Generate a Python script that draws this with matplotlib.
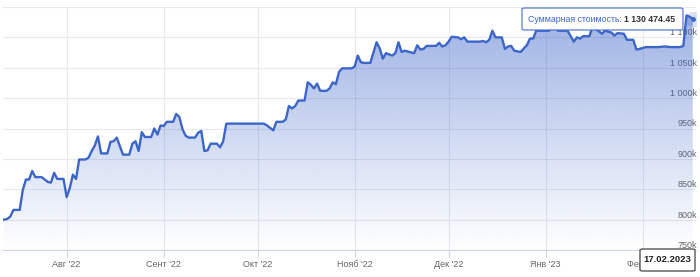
import numpy as np
import matplotlib
matplotlib.use('Agg')
import matplotlib.pyplot as plt
from matplotlib.patches import FancyBboxPatch
import pandas as pd

plt.rcParams['font.family'] = ['Liberation Sans', 'DejaVu Sans']

# portfolio value, thousands
dates = ['2022-07-12', '2022-07-13', '2022-07-14', '2022-07-15', '2022-07-17', '2022-07-18',
         '2022-07-19', '2022-07-20', '2022-07-21', '2022-07-22', '2022-07-24', '2022-07-25',
         '2022-07-26', '2022-07-27', '2022-07-28', '2022-07-29', '2022-07-31', '2022-08-01',
         '2022-08-02', '2022-08-03', '2022-08-04', '2022-08-05', '2022-08-07', '2022-08-08',
         '2022-08-09', '2022-08-10', '2022-08-11', '2022-08-12', '2022-08-14', '2022-08-15',
         '2022-08-16', '2022-08-17', '2022-08-18', '2022-08-19', '2022-08-21', '2022-08-22',
         '2022-08-23', '2022-08-24', '2022-08-25', '2022-08-26', '2022-08-28', '2022-08-29',
         '2022-08-30', '2022-08-31', '2022-09-01', '2022-09-02', '2022-09-04', '2022-09-05',
         '2022-09-06', '2022-09-07', '2022-09-08', '2022-09-09', '2022-09-11', '2022-09-12',
         '2022-09-13', '2022-09-14', '2022-09-15', '2022-09-16', '2022-09-18', '2022-09-19',
         '2022-09-20', '2022-09-21', '2022-10-03', '2022-10-04', '2022-10-06', '2022-10-07',
         '2022-10-09', '2022-10-10', '2022-10-11', '2022-10-12', '2022-10-13', '2022-10-14',
         '2022-10-16', '2022-10-17', '2022-10-18', '2022-10-19', '2022-10-20', '2022-10-21',
         '2022-10-23', '2022-10-24', '2022-10-25', '2022-10-26', '2022-10-27', '2022-10-28',
         '2022-10-31', '2022-11-01', '2022-11-02', '2022-11-03', '2022-11-04', '2022-11-06',
         '2022-11-07', '2022-11-08', '2022-11-09', '2022-11-10', '2022-11-11', '2022-11-13',
         '2022-11-14', '2022-11-15', '2022-11-16', '2022-11-17', '2022-11-20', '2022-11-21',
         '2022-11-22', '2022-11-23', '2022-11-24', '2022-11-27', '2022-11-28', '2022-11-29',
         '2022-11-30', '2022-12-01', '2022-12-02', '2022-12-04', '2022-12-05', '2022-12-06',
         '2022-12-07', '2022-12-11', '2022-12-12', '2022-12-13', '2022-12-14', '2022-12-15',
         '2022-12-16', '2022-12-18', '2022-12-19', '2022-12-20', '2022-12-21', '2022-12-22',
         '2022-12-24', '2022-12-26', '2022-12-27', '2022-12-28', '2022-12-29', '2023-01-02',
         '2023-01-04', '2023-01-05', '2023-01-08', '2023-01-09', '2023-01-10', '2023-01-11',
         '2023-01-12', '2023-01-13', '2023-01-15', '2023-01-16', '2023-01-17', '2023-01-18',
         '2023-01-19', '2023-01-20', '2023-01-22', '2023-01-23', '2023-01-24', '2023-01-26',
         '2023-01-27', '2023-01-29', '2023-01-30', '2023-01-31', '2023-02-02', '2023-02-06',
         '2023-02-08', '2023-02-10', '2023-02-13', '2023-02-14', '2023-02-15', '2023-02-16',
         '2023-02-17']
values = [800, 801, 805, 816, 816, 849,
          866, 866, 880, 870, 870, 866,
          862, 861, 877, 867, 867, 837,
          852, 874, 867, 899, 899, 902,
          913, 922, 937, 909, 909, 928,
          929, 935, 921, 907, 907, 925,
          929, 913, 944, 936, 936, 950,
          940, 955, 954, 961, 961, 974,
          969, 949, 938, 935, 935, 943,
          946, 913, 914, 925, 925, 919,
          929, 958, 958, 955, 947, 961,
          961, 965, 987, 983, 987, 996,
          996, 1026, 1022, 1016, 1024, 1012,
          1012, 1016, 1026, 1023, 1043, 1049,
          1049, 1052, 1070, 1059, 1058, 1058,
          1075, 1092, 1082, 1065, 1074, 1070,
          1074, 1092, 1076, 1078, 1074, 1087,
          1080, 1081, 1086, 1086, 1091, 1085,
          1087, 1093, 1101, 1100, 1097, 1100,
          1093, 1093, 1094, 1092, 1096, 1111,
          1100, 1100, 1081, 1085, 1086, 1078,
          1076, 1087, 1098, 1098, 1111, 1111,
          1118, 1111, 1111, 1102, 1093, 1100,
          1098, 1102, 1102, 1119, 1114, 1110,
          1106, 1111, 1108, 1103, 1107, 1106,
          1096, 1096, 1080, 1081, 1084, 1084,
          1085, 1084, 1084, 1086, 1136, 1134,
          1130.47445]

month_ticks = ['2022-08-01', '2022-09-01', '2022-10-01', '2022-11-01',
               '2022-12-01', '2023-01-01', '2023-02-01']
month_labels = ["Авг '22", "Сент '22", "Окт '22", "Нояб '22", "Дек '22", "Янв '23", "Фев '23"]
y_ticks = [750, 800, 850, 900, 950, 1000, 1050, 1100, 1150]
y_labels = ['750k', '800k', '850k', '900k', '950k', '1 000k', '1 050k', '1 100k', '']

tooltip_name = 'Суммарная стоимость: '
tooltip_value = '1 130 474.45'
hover_date = '17.02.2023'

x = pd.to_datetime(dates)
line_color = '#3d66c9'

W, H = 700, 277
fig = plt.figure(figsize=(W / 100, H / 100), dpi=100)
ax = fig.add_axes([3 / W, 27 / H, 693 / W, 243 / H])

ax.set_xlim(pd.Timestamp('2022-07-11 16:00'), pd.Timestamp('2023-02-18 01:00'))
ax.set_ylim(750, 1150)

# gradient fill under the line
poly = ax.fill_between(x, values, 750, color='none', lw=0)
grad = np.zeros((256, 1, 4))
grad[:, 0, :3] = matplotlib.colors.to_rgb(line_color)
grad[:, 0, 3] = np.linspace(0.52, 0.0, 256)
xl = ax.get_xlim()
img = ax.imshow(grad, aspect='auto', extent=[xl[0], xl[1], 750, 1150], origin='upper', zorder=1)
img.set_clip_path(poly.get_paths()[0], transform=ax.transData)
ax.set_xlim(xl)

ax.plot(x, values, color=line_color, lw=1.7, zorder=3, solid_joinstyle='round')
ax.plot(x[-1:], values[-1:], 'o', ms=11, color=line_color, alpha=0.2, mew=0, zorder=4)
ax.plot(x[-1:], values[-1:], 'o', ms=3.5, color=line_color, mew=0, zorder=5)

ax.set_yticks(y_ticks)
ax.set_yticklabels(y_labels)
ax.yaxis.tick_right()
ax.tick_params(axis='y', length=0, pad=1, labelsize=6.5, labelcolor='#666666')
for lbl in ax.get_yticklabels():
    lbl.set_horizontalalignment('right')
    lbl.set_verticalalignment('bottom')

ax.set_xticks(pd.to_datetime(month_ticks))
ax.set_xticklabels(month_labels)
ax.tick_params(axis='x', length=5, width=0.8, color='#ccd6eb', pad=2, labelsize=6.5,
               labelcolor='#666666')

ax.grid(True, color='#e8e8ee', lw=0.8, zorder=0)
ax.set_axisbelow(True)
for s in ['top', 'left', 'right']:
    ax.spines[s].set_visible(False)
ax.spines['bottom'].set_color('#ccd6eb')
ax.spines['bottom'].set_linewidth(0.8)

# tooltip
fig.patches.append(FancyBboxPatch((522 / W, (H - 30) / H), 161 / W, 22 / H,
                                  boxstyle='round,pad=0,rounding_size=0.004',
                                  transform=fig.transFigure, fc='#ffffff', ec=line_color,
                                  lw=0.8, alpha=0.95, zorder=10))
t1 = fig.text(528 / W, (H - 19) / H, tooltip_name, color=line_color, fontsize=6.3,
              va='center', ha='left', zorder=11)
fig.canvas.draw()
bb = t1.get_window_extent()
fig.text(bb.x1 / W, (H - 19) / H, tooltip_value, color='#333333', fontsize=6.3,
         fontweight='bold', va='center', ha='left', zorder=11)

# date label
fig.patches.append(FancyBboxPatch((640 / W, (H - 271) / H), 55 / W, 22 / H,
                                  boxstyle='round,pad=0,rounding_size=0.004',
                                  transform=fig.transFigure, fc='#ffffff', ec='#444444',
                                  lw=0.9, zorder=10))
fig.text(667.5 / W, (H - 260) / H, hover_date, color='#222222', fontsize=6.8,
         fontweight='bold', va='center', ha='center', zorder=11)

fig.savefig('out.png', dpi=100, facecolor='white')
